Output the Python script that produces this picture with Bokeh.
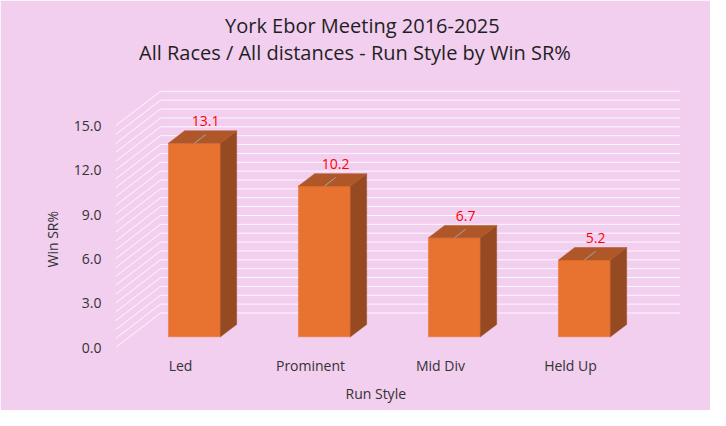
from bokeh.plotting import figure
from bokeh.models import ColumnDataSource, Range1d, FixedTicker, PrintfTickFormatter, Title
from bokeh.core.properties import value
from bokeh.embed import file_html
from bokeh.resources import INLINE

# data
run_styles = ["Led", "Prominent", "Mid Div", "Held Up"]
win_sr = [13.1, 10.2, 6.7, 5.2]
y_ticks = [0, 3, 6, 9, 12, 15]
title_lines = ["York Ebor Meeting 2016-2025",
               "All Races / All distances - Run Style by Win SR%"]

FONT = "Open Sans"
BG = "#F2CEEF"
TXT = "#333333"

# fake 3D: depth offset of the back wall, in data units
DX = 45 / 130      # categories
DY = 34.5 / 14.78  # win SR%
Z_FRONT, Z_BACK = 0.31, 0.67
HALF_W = 0.2
LABEL_PAD = 0.9    # gap between leader end and label, in win SR% units


def proj(x, v, z):
    return x + z * DX, v + z * DY


p = figure(width=710, height=410, title=None,
           x_range=Range1d(0, len(run_styles) + DX), y_range=Range1d(0, 18.88),
           output_backend="svg", toolbar_location=None, tools="",
           background_fill_color=BG, border_fill_color=BG,
           min_border_left=115, min_border_right=30,
           min_border_top=68, min_border_bottom=63)
p.outline_line_color = BG
p.outline_line_width = 2
p.grid.grid_line_color = None

# gridlines: left wall diagonal + back wall
grid_vals = [round(i * 0.6, 1) for i in range(26)]
gx, gy = [], []
for g in grid_vals:
    x0, y0 = proj(0, g, 0)
    x1, y1 = proj(0, g, 1)
    x2, y2 = proj(len(run_styles), g, 1)
    gx.append([x0, x1, x2])
    gy.append([y0, y1, y2])
p.multi_line(gx, gy, line_color="#FFFFFF", line_width=1, line_alpha=0.85)

# bars as three faces
faces = {"xs": [], "ys": [], "color": []}
for i, v in enumerate(win_sr):
    xc = i + 0.5
    xl, xr = xc - HALF_W, xc + HALF_W
    front = [proj(xl, 0, Z_FRONT), proj(xr, 0, Z_FRONT), proj(xr, v, Z_FRONT), proj(xl, v, Z_FRONT)]
    side = [proj(xr, 0, Z_FRONT), proj(xr, 0, Z_BACK), proj(xr, v, Z_BACK), proj(xr, v, Z_FRONT)]
    top = [proj(xl, v, Z_FRONT), proj(xr, v, Z_FRONT), proj(xr, v, Z_BACK), proj(xl, v, Z_BACK)]
    for pts, col in ((front, "#E87230"), (side, "#964A22"), (top, "#B0572A")):
        faces["xs"].append([q[0] for q in pts])
        faces["ys"].append([q[1] for q in pts])
        faces["color"].append(col)
p.patches("xs", "ys", fill_color="color", line_color="color", line_width=0.5,
          source=ColumnDataSource(faces))

# data labels with leader lines
lx0, ly0, lx1, ly1 = [], [], [], []
for i, v in enumerate(win_sr):
    a = proj(i + 0.5, v, Z_FRONT)
    b = proj(i + 0.5, v, 0.56)
    lx0.append(a[0]); ly0.append(a[1]); lx1.append(b[0]); ly1.append(b[1])
p.segment(lx0, ly0, lx1, ly1, line_color="#A6A6A6", line_width=1)
p.text(lx1, [y + LABEL_PAD for y in ly1], text=[f"{v:.1f}" for v in win_sr],
       text_font=value(FONT), text_font_size="14px", text_color="#FF0000",
       text_align="center", text_baseline="alphabetic")

# axes
p.yaxis.ticker = FixedTicker(ticks=y_ticks)
p.yaxis.formatter = PrintfTickFormatter(format="%.1f")
p.xaxis.ticker = FixedTicker(ticks=[i + 0.5 for i in range(len(run_styles))])
p.xaxis.major_label_overrides = {i + 0.5: s for i, s in enumerate(run_styles)}
for ax in (p.xaxis, p.yaxis):
    ax.axis_line_color = None
    ax.major_tick_line_color = None
    ax.minor_tick_line_color = None
    ax.major_tick_out = 0
    ax.major_label_text_font = FONT
    ax.major_label_text_font_size = "14px"
    ax.major_label_text_color = TXT
p.yaxis.major_label_standoff = 14
p.xaxis.major_label_standoff = 8

# axis titles (placed as titles so they sit where the chart had them)
p.add_layout(Title(text="Run Style", align="left", offset=230, standoff=12,
                   vertical_align="top", text_font=FONT, text_font_size="14px",
                   text_font_style="normal", text_color=TXT), "below")
p.add_layout(Title(text="Win SR%", align="left", offset=80, standoff=16,
                   vertical_align="middle", text_font=FONT, text_font_size="14px",
                   text_font_style="normal", text_color=TXT), "left")

# two title lines, the one nearest the frame first
for txt, off, so in ((title_lines[1], 23.5, 6), (title_lines[0], 109.5, -11)):
    p.add_layout(Title(text=txt, align="left", offset=off, standoff=so,
                       text_font=FONT, text_font_size="20px", text_font_style="normal",
                       text_color="#1F1F1F"), "above")

open("out.html", "w").write(file_html(p, INLINE))
